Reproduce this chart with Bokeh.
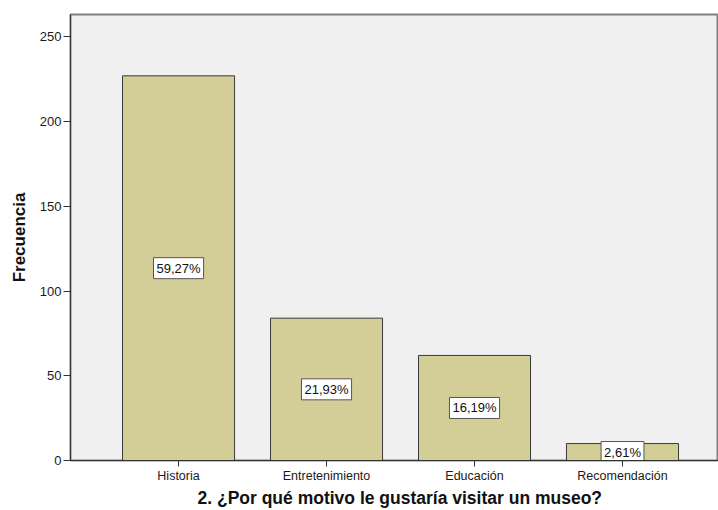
from bokeh.plotting import figure
from bokeh.models import ColumnDataSource, FixedTicker, Title, Range1d
from bokeh.core.properties import value
from bokeh.embed import file_html
from bokeh.resources import INLINE

categories = ["Historia", "Entretenimiento", "Educación", "Recomendación"]
counts = [227, 84, 62, 10]
percent_labels = ["59,27%", "21,93%", "16,19%", "2,61%"]
y_ticks = [0, 50, 100, 150, 200, 250]

xs = list(range(1, len(categories) + 1))
src = ColumnDataSource(dict(
    x=xs, top=counts, mid=[c / 2 for c in counts], lab=percent_labels))

FONT = "Liberation Sans"

p = figure(width=718, height=510, output_backend="svg", toolbar_location=None,
           x_range=Range1d(0.27, 4.6486), y_range=Range1d(0, 263.2),
           min_border_left=70, min_border_top=14, min_border_right=0,
           min_border_bottom=50)
p.background_fill_color = "#F0F0F0"
p.border_fill_color = "white"
p.outline_line_color = "#808080"
p.outline_line_width = 2
p.grid.visible = False

p.vbar(x="x", top="top", width=0.757, source=src,
       fill_color="#D3CE97", line_color="#3a3a3a", line_width=1)

p.text(x="x", y="mid", text="lab", source=src,
       text_align="center", text_baseline="middle",
       text_font=value(FONT), text_font_size="13px", text_color="#111111",
       background_fill_color="white",
       border_line_color="#555555", border_line_width=1,
       padding=3)

# y axis
p.yaxis.ticker = FixedTicker(ticks=y_ticks)
p.yaxis.minor_tick_line_color = None
p.yaxis.major_tick_in = 0
p.yaxis.major_tick_out = 7
p.yaxis.major_label_standoff = 2
p.yaxis.major_label_text_font_size = "13px"
p.yaxis.axis_label = "Frecuencia"
p.yaxis.axis_label_standoff = 8
p.yaxis.axis_label_text_font = FONT
p.yaxis.axis_label_text_font_style = "bold"
p.yaxis.axis_label_text_font_size = "17px"
p.yaxis.axis_label_text_color = "#111111"

# x axis
p.xaxis.ticker = FixedTicker(ticks=xs)
p.xaxis.major_label_overrides = {i: c for i, c in zip(xs, categories)}
p.xaxis.minor_tick_line_color = None
p.xaxis.major_tick_in = 0
p.xaxis.major_tick_out = 6
p.xaxis.major_label_standoff = 2
p.xaxis.major_label_text_font_size = "12.5px"

for ax in (p.xaxis, p.yaxis):
    ax.axis_line_color = "#333333"
    ax.axis_line_width = 1
    ax.major_tick_line_color = "#333333"
    ax.major_label_text_font = FONT
    ax.major_label_text_color = "#1a1a1a"

xt = Title(text="2. ¿Por qué motivo le gustaría visitar un museo?",
           align="left", offset=127, text_font=FONT, text_font_size="17.5px",
           text_font_style="bold", text_color="#111111", standoff=1)
p.add_layout(xt, "below")

open("out.html", "w").write(file_html(p, INLINE))
